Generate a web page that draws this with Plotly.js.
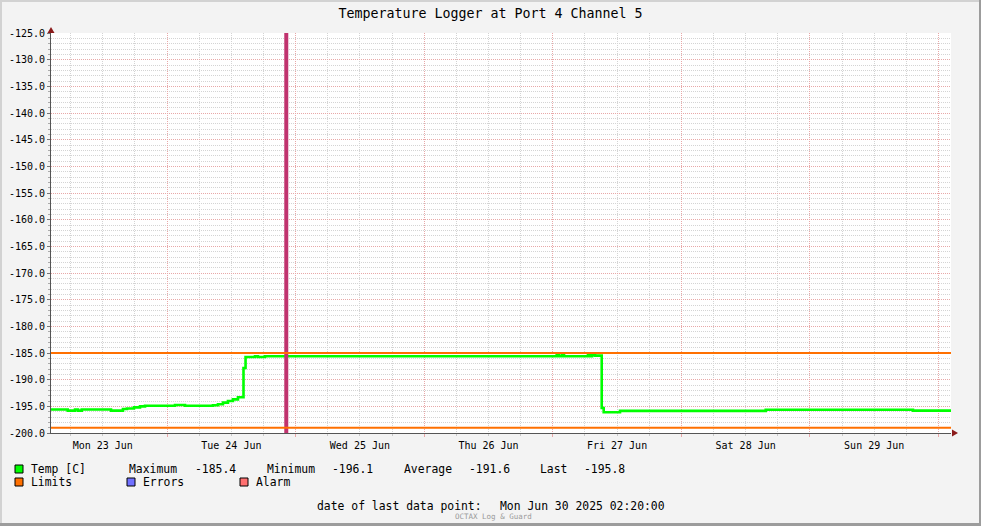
<!DOCTYPE html>
<html>
<head>
<meta charset="utf-8">
<script src="https://cdn.plot.ly/plotly-3.0.1.min.js"></script>
<style>html,body{margin:0;padding:0;background:#f3f3f3;}#chart{width:981px;height:526px;}</style>
</head>
<body>
<div id="chart"></div>
<script>
// ---- data ----
const rangeStart = '2025-06-23 02:20';
const rangeEnd = '2025-06-30 02:20';
const tempTimes = [
  '2025-06-23 02:20','2025-06-23 05:27','2025-06-23 06:49','2025-06-23 07:22','2025-06-23 08:04',
  '2025-06-23 13:32','2025-06-23 15:46','2025-06-23 16:31','2025-06-23 17:49','2025-06-23 18:57',
  '2025-06-23 19:53','2025-06-24 01:29','2025-06-24 03:21','2025-06-24 08:34','2025-06-24 09:30',
  '2025-06-24 10:26','2025-06-24 11:22','2025-06-24 12:18','2025-06-24 13:14','2025-06-24 14:16',
  '2025-06-24 14:39','2025-06-24 16:25','2025-06-24 16:58','2025-06-24 18:17','2025-06-27 00:44',
  '2025-06-27 01:10','2025-06-27 01:43','2025-06-27 02:06','2025-06-27 06:34','2025-06-27 06:57',
  '2025-06-27 07:19','2025-06-27 07:53','2025-06-27 09:08','2025-06-27 09:30','2025-06-27 12:33',
  '2025-06-28 15:45','2025-06-29 19:14','2025-06-30 02:20'
];
const tempValues = [
  -195.6,-195.8,-195.6,-195.8,-195.6,
  -195.8,-195.5,-195.4,-195.2,-195.0,
  -194.9,-194.75,-194.9,-194.8,-194.6,
  -194.3,-194.0,-193.7,-193.3,-187.8,
  -185.75,-185.6,-185.75,-185.6,-185.4,
  -185.6,-185.4,-185.6,-185.4,-185.6,
  -185.4,-185.5,-195.3,-196.1,-195.85,
  -195.65,-195.8,-195.8
];
const limitValues = [-185, -199];
const alarmTime = '2025-06-24 22:15';
const yMin = -200, yMax = -125;
const yTickVals = [-200,-195,-190,-185,-180,-175,-170,-165,-160,-155,-150,-145,-140,-135,-130,-125];
const yTickText = yTickVals.map(v => v.toFixed(1));
const statLabels = ['Maximum','Minimum','Average','Last'];
const statValues = [-185.4, -196.1, -191.6, -195.8];
const legendNames = ['Temp [C]','Limits','Errors','Alarm'];
const legendColors = ['#00ff00','#ff7000','#7070ff','#ff7070'];
const titleText = 'Temperature Logger at Port 4 Channel 5';
const lastPointLabel = 'date of last data point:';
const lastPointText = 'Mon Jun 30 2025 02:20:00';
const footerText = 'OCTAX Log & Guard';

// ---- geometry helpers (pixel -> paper) ----
const L = 51, T = 33, W = 900, H = 400;
const px = x => (x - L) / W;
const py = y => (T + H - y) / H;
const mono = 'DejaVu Sans Mono, monospace';

const traces = [
  {x: tempTimes, y: tempValues, type: 'scatter', mode: 'lines',
   line: {color: legendColors[0], width: 2.6, shape: 'hv'}, hoverinfo: 'skip', showlegend: false},
  {x: [alarmTime, alarmTime], y: [yMin, yMax], type: 'scatter', mode: 'lines',
   line: {color: '#c0336e', width: 4}, hoverinfo: 'skip', showlegend: false},
  {x: [rangeStart, rangeEnd, null, rangeStart, rangeEnd],
   y: [limitValues[0], limitValues[0], null, limitValues[1], limitValues[1]],
   type: 'scatter', mode: 'lines', line: {color: legendColors[1], width: 2},
   hoverinfo: 'skip', showlegend: false, connectgaps: false}
];

const annotations = [];
function txt(x, y, s, opts) {
  annotations.push(Object.assign({xref: 'paper', yref: 'paper', x: px(x), y: py(y), text: s,
    showarrow: false, xanchor: 'left', yanchor: 'middle', borderpad: 0,
    font: {family: mono, size: 11.4, color: '#000'}}, opts || {}));
}
txt(30, 469, legendNames[0]);
const statLabelX = [128, 266, 403, 539];
const statValueX = [194, 331, 468, 583];
statLabels.forEach((s, i) => { txt(statLabelX[i], 469, s); txt(statValueX[i], 469, statValues[i].toFixed(1)); });
const legend2X = [30, 142, 255];
[1, 2, 3].forEach((k, i) => txt(legend2X[i], 482, legendNames[k]));
txt(316, 506, lastPointLabel);
txt(499, 506, lastPointText);
txt(493, 516, footerText, {xanchor: 'center', font: {family: mono, size: 7.5, color: '#9a9a9a'}});

const shapes = [];
// legend squares
const sqX = [15, 15, 127, 240];
const sqY = [469, 482, 482, 482];
legendColors.forEach((c, i) => {
  shapes.push({type: 'rect', xref: 'paper', yref: 'paper', x0: px(sqX[i]), x1: px(sqX[i] + 8),
    y0: py(sqY[i] + 4), y1: py(sqY[i] - 4), fillcolor: c, line: {color: '#000', width: 1}});
});
// axis arrows
shapes.push({type: 'path', xref: 'paper', yref: 'paper',
  path: `M${px(51)},${py(27)} L${px(47.5)},${py(33)} L${px(54.5)},${py(33)} Z`,
  fillcolor: '#8b1a1a', line: {width: 0}});
shapes.push({type: 'path', xref: 'paper', yref: 'paper',
  path: `M${px(958)},${py(433)} L${px(952)},${py(429.5)} L${px(952)},${py(436.5)} Z`,
  fillcolor: '#8b1a1a', line: {width: 0}});
// frame
shapes.push({type: 'rect', xref: 'paper', yref: 'paper', x0: px(0), x1: px(981), y0: py(0), y1: py(2), fillcolor: '#d2d2d2', line: {width: 0}});
shapes.push({type: 'rect', xref: 'paper', yref: 'paper', x0: px(0), x1: px(2), y0: py(0), y1: py(526), fillcolor: '#d2d2d2', line: {width: 0}});
shapes.push({type: 'rect', xref: 'paper', yref: 'paper', x0: px(979), x1: px(981), y0: py(0), y1: py(526), fillcolor: '#9c9c9c', line: {width: 0}});
shapes.push({type: 'rect', xref: 'paper', yref: 'paper', x0: px(0), x1: px(981), y0: py(523), y1: py(526), fillcolor: '#9c9c9c', line: {width: 0}});

const layout = {
  width: 981, height: 526,
  margin: {l: L, r: 981 - L - W, t: T, b: 526 - T - H, pad: 0},
  paper_bgcolor: '#f3f3f3', plot_bgcolor: '#ffffff',
  showlegend: false,
  title: {text: titleText, x: 0.5, xanchor: 'center', y: 1 - 13 / 526, yref: 'container', yanchor: 'middle',
    font: {family: mono, size: 13.3, color: '#000'}},
  xaxis: {type: 'date', range: [rangeStart, rangeEnd], tick0: '2025-06-23 00:00', dtick: 86400000,
    ticklabelmode: 'period', tickformat: '%a %d %b',
    showgrid: true, gridcolor: '#e8a8a8', griddash: '1px,1px', gridwidth: 1,
    ticks: 'outside', ticklen: 3, tickcolor: '#e8a8a8',
    minor: {dtick: 21600000, showgrid: true, gridcolor: '#d4d4d4', griddash: '1px,1px', ticks: 'outside', ticklen: 2, tickcolor: '#c8c8c8'},
    showline: true, linecolor: '#555555', linewidth: 1, zeroline: false,
    tickfont: {family: mono, size: 10, color: '#000'}, fixedrange: true},
  yaxis: {range: [yMin, yMax], tickvals: yTickVals, ticktext: yTickText,
    showgrid: true, gridcolor: '#e8a8a8', griddash: '1px,1px', gridwidth: 1,
    ticks: 'outside', ticklen: 3, tickcolor: '#777',
    minor: {dtick: 1, showgrid: true, gridcolor: '#d4d4d4', griddash: '1px,1px', ticks: 'outside', ticklen: 2, tickcolor: '#aaa'},
    showline: true, linecolor: '#555555', linewidth: 1, zeroline: false,
    tickfont: {family: mono, size: 10, color: '#000'}, fixedrange: true},
  annotations: annotations,
  shapes: shapes
};

Plotly.newPlot('chart', traces, layout, {staticPlot: true, displayModeBar: false});
</script>
</body>
</html>
